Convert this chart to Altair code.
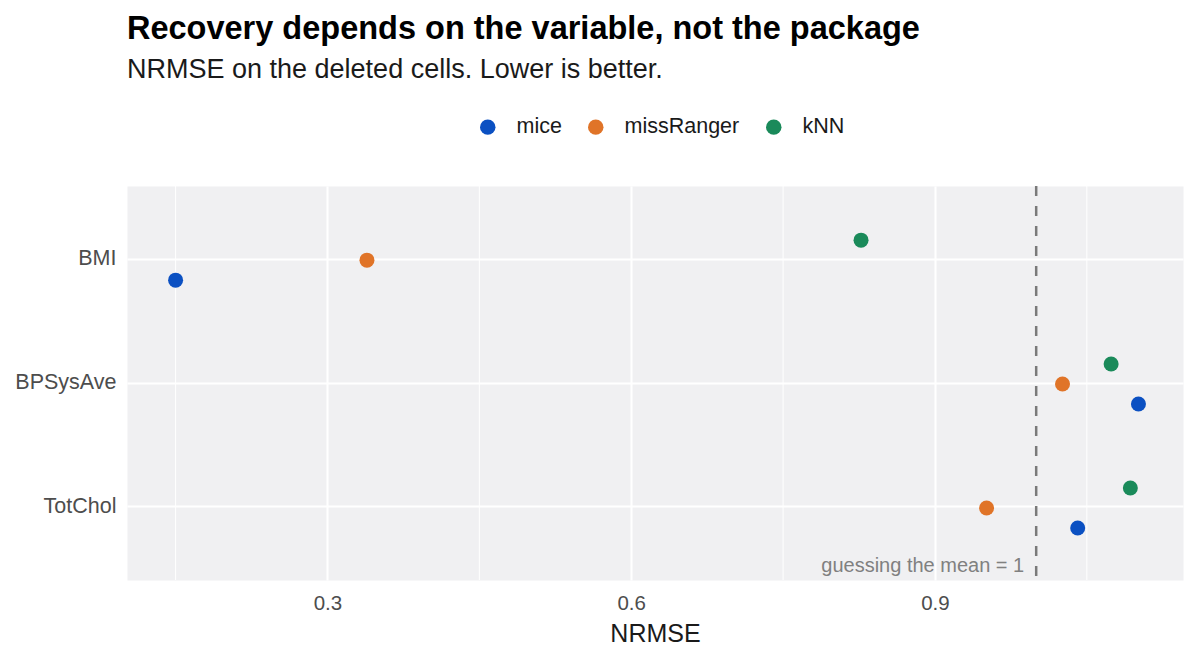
import altair as alt
import pandas as pd

variables = ["BMI", "BPSysAve", "TotChol"]
methods = ["mice", "missRanger", "kNN"]
colors = ["#0B50C2", "#E07428", "#1A8A5A"]
mice_vals = [0.150, 1.101, 1.041]
missranger_vals = [0.339, 1.026, 0.951]
knn_vals = [0.827, 1.074, 1.093]
minor_breaks = [0.15, 0.45, 0.75, 1.05]
major_breaks = [0.3, 0.6, 0.9]
baseline = [1.0]
annotation = ["guessing the mean = 1"]

rows = []
for m, vals in zip(methods, [mice_vals, missranger_vals, knn_vals]):
    for v, val in zip(variables, vals):
        rows.append({"variable": v, "method": m, "nrmse": val})
df = pd.DataFrame(rows)

FONT = "Liberation Sans"
xscale = alt.Scale(domain=[0.102, 1.145], nice=False, zero=False)

minor = alt.Chart(pd.DataFrame({"b": minor_breaks})).mark_rule(
    color="white", strokeWidth=1
).encode(x=alt.X("b:Q", scale=xscale))

points = alt.Chart(df).mark_point(filled=True, size=225, opacity=1).encode(
    x=alt.X(
        "nrmse:Q",
        scale=xscale,
        title="NRMSE",
        axis=alt.Axis(
            values=major_breaks,
            format=".1f",
            grid=True,
            gridColor="white",
            gridWidth=2,
            ticks=False,
            domain=False,
            labelFont=FONT,
            labelFontSize=20.5,
            labelColor="#4d4d4d",
            labelPadding=13,
            titleFont=FONT,
            titleFontSize=25,
            titleFontWeight="normal",
            titleColor="#1a1a1a",
            titlePadding=8,
        ),
    ),
    y=alt.Y(
        "variable:N",
        sort=variables,
        title=None,
        scale=alt.Scale(paddingInner=0, paddingOuter=0.09),
        axis=alt.Axis(
            bandPosition=0.5,
            grid=True,
            gridColor="white",
            gridWidth=2,
            ticks=False,
            domain=False,
            labelFont=FONT,
            labelFontSize=21.5,
            labelColor="#4d4d4d",
            labelPadding=11,
        ),
    ),
    yOffset=alt.YOffset(
        "method:N",
        sort=["kNN", "missRanger", "mice"],
        scale=alt.Scale(type="point", padding=0, range=[43, 83]),
    ),
    color=alt.Color(
        "method:N",
        sort=methods,
        scale=alt.Scale(domain=methods, range=colors),
        legend=alt.Legend(
            title=None,
            orient="none",
            direction="horizontal",
            legendX=350,
            legendY=-70,
            symbolType="circle",
            symbolSize=240,
            symbolStrokeWidth=0,
            labelFont=FONT,
            labelFontSize=21.5,
            labelColor="#1a1a1a",
            labelOffset=18,
            columnPadding=23,
        ),
    ),
)

rule = alt.Chart(pd.DataFrame({"b": baseline})).mark_rule(
    color="#7a7a7a", strokeWidth=2.5, strokeDash=[10, 10]
).encode(x=alt.X("b:Q", scale=xscale))

label = alt.Chart(pd.DataFrame({"b": baseline, "t": annotation})).mark_text(
    align="right", baseline="middle", dx=-12, font=FONT, fontSize=20, color="#808080"
).encode(x=alt.X("b:Q", scale=xscale), y=alt.value(380), text="t:N")

chart = alt.layer(minor, points, rule, label).properties(
    width=1056,
    height=394,
    autosize=alt.AutoSizeParams(type="none"),
    padding={"left": 127, "top": 186, "right": 17, "bottom": 80},
    title=alt.Title(
        "Recovery depends on the variable, not the package",
        subtitle="NRMSE on the deleted cells. Lower is better.",
        anchor="start",
        frame="group",
        offset=33,
        font=FONT,
        fontSize=32.5,
        fontWeight="bold",
        color="black",
        subtitleFont=FONT,
        subtitleFontSize=27,
        subtitleColor="#1a1a1a",
        subtitlePadding=12,
    ),
).configure(background="white").configure_view(fill="#F0F0F2", stroke="transparent")

chart.save("out.html", embed_options={"renderer": "svg", "actions": False})
